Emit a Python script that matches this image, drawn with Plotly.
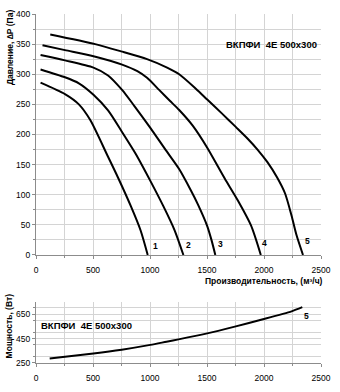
import plotly.graph_objects as go

# Fan curves: pressure (Pa) versus airflow (m³/h) at five speed settings
flow_1 = [40, 254, 376, 476, 632, 718, 832, 917, 980]
pres_1 = [286, 267, 250, 224, 163, 129, 81, 41, 0]

flow_2 = [40, 254, 376, 504, 632, 752, 874, 1003, 1117, 1216, 1293]
pres_2 = [308, 295, 285, 266, 240, 205, 168, 123, 81, 41, 0]

flow_3 = [40, 254, 504, 632, 755, 860, 1003, 1131, 1254, 1359, 1420, 1502, 1539, 1573]
pres_3 = [332, 323, 311, 298, 274, 248, 211, 176, 143, 107, 84, 48, 25, 0]

flow_4 = [57, 254, 504, 755, 889, 974, 1080, 1174, 1254, 1373, 1502, 1601, 1658, 1772, 1886, 1972]
pres_4 = [348, 340, 330, 316, 305, 294, 274, 256, 241, 215, 178, 145, 126, 90, 49, 0]

flow_5 = [125, 519, 746, 974, 1150, 1256, 1402, 1502, 1630, 1750, 1857, 1943, 2030, 2114, 2185, 2242, 2285, 2342]
pres_5 = [366, 350, 338, 325, 311, 300, 276, 258, 235, 213, 193, 175, 154, 129, 102, 65, 33, 0]

curve_names = ["1", "2", "3", "4", "5"]
label_flow = [1045, 1339, 1621, 2006, 2385]
label_pres = [15, 16, 18, 20, 24]

# Power consumption (W) versus airflow at the top speed
power_flow = [120, 504, 752, 1003, 1145, 1250, 1493, 1744, 1991, 2242, 2336]
power_w = [287, 328, 359, 398, 424, 443, 490, 547, 607, 672, 706]
power_label = "5"

model_name = "ВКПФИ  4E 500x300"
x_ticks = [0, 500, 1000, 1500, 2000, 2500]

FONT = "Liberation Sans, Arial, sans-serif"
GRID = "#d4d4d4"
AXIS = "#8c8c8c"

W, H = 340, 392
ML, MR, MT, MB = 36, 12, 9, 18
plot_h = H - MT - MB
top_bottom_px = 261     # pixel row of the pressure axis zero line
low_top_px = 310        # pixel row of the top of the power panel
top_domain = [(H - MB - top_bottom_px) / plot_h, 1.0]
low_domain = [0.0, (H - MB - low_top_px) / plot_h]

fig = go.Figure()

flows = [flow_1, flow_2, flow_3, flow_4, flow_5]
pressures = [pres_1, pres_2, pres_3, pres_4, pres_5]
for name, fx, py in zip(curve_names, flows, pressures):
    fig.add_trace(go.Scatter(
        x=fx, y=py, mode="lines", name=name,
        line=dict(color="black", width=2, shape="spline", smoothing=0.7),
        xaxis="x", yaxis="y", showlegend=False, hoverinfo="skip"))

fig.add_trace(go.Scatter(
    x=power_flow, y=power_w, mode="lines", name="power",
    line=dict(color="black", width=2, shape="spline", smoothing=0.7),
    xaxis="x2", yaxis="y2", showlegend=False, hoverinfo="skip"))

tick_font = dict(family=FONT, size=8.5, color="black")

common_x = dict(
    range=[0, 2500], tickvals=x_ticks, ticktext=[str(v) for v in x_ticks],
    showgrid=True, gridcolor=GRID, gridwidth=1,
    minor=dict(dtick=250, showgrid=True, gridcolor=GRID, gridwidth=1,
               ticks="outside", ticklen=2, tickcolor=AXIS),
    showline=True, linecolor=AXIS, linewidth=1, mirror=False,
    ticks="outside", ticklen=3, tickcolor=AXIS, ticklabelstandoff=4,
    zeroline=False, tickfont=tick_font, fixedrange=True)

fig.update_layout(
    width=W, height=H,
    margin=dict(l=ML, r=MR, t=MT, b=MB),
    paper_bgcolor="white", plot_bgcolor="white",
    font=dict(family=FONT, size=8.5, color="black"),
    xaxis=dict(common_x, anchor="y"),
    yaxis=dict(
        domain=top_domain, anchor="x", range=[0, 400], dtick=50,
        showgrid=True, gridcolor=GRID, gridwidth=1,
        minor=dict(dtick=25, showgrid=True, gridcolor=GRID, gridwidth=1,
                   ticks="outside", ticklen=2, tickcolor=AXIS),
        showline=True, linecolor=AXIS, linewidth=1,
        ticks="outside", ticklen=3, tickcolor=AXIS,
        zeroline=False, tickfont=tick_font, fixedrange=True),
    xaxis2=dict(common_x, anchor="y2"),
    yaxis2=dict(
        domain=low_domain, anchor="x2", range=[250, 750],
        tickvals=[250, 450, 650],
        showgrid=True, gridcolor=GRID, gridwidth=1,
        minor=dict(dtick=100, showgrid=True, gridcolor=GRID, gridwidth=1,
                   ticks="outside", ticklen=2, tickcolor=AXIS),
        showline=True, linecolor=AXIS, linewidth=1,
        ticks="outside", ticklen=3, tickcolor=AXIS,
        zeroline=False, tickfont=tick_font, fixedrange=True),
)

annotations = []
for name, lx, ly in zip(curve_names, label_flow, label_pres):
    annotations.append(dict(x=lx, y=ly, xref="x", yref="y", text=name,
                            showarrow=False,
                            font=dict(family=FONT, size=8.5, weight="bold")))

annotations.append(dict(x=2370, y=632, xref="x2", yref="y2", text=power_label,
                        showarrow=False,
                        font=dict(family=FONT, size=8.5, weight="bold")))

annotations.append(dict(x=2068, y=349, xref="x", yref="y", text=model_name,
                        showarrow=False, font=dict(family=FONT, size=9.5, weight="bold")))
annotations.append(dict(x=441, y=555, xref="x2", yref="y2", text=model_name,
                        showarrow=False, font=dict(family=FONT, size=9.5, weight="bold")))

# axis titles (positions given in full-page pixels)
annotations.append(dict(
    x=10 / W, y=1 - 44 / H, xref="paper", yref="paper",
    text="Давление, ∆P (Па)", textangle=-90, showarrow=False,
    font=dict(family=FONT, size=8.5, weight="bold"),
    xanchor="center", yanchor="middle"))
annotations.append(dict(
    x=8 / W, y=1 - 335 / H, xref="paper", yref="paper",
    text="Мощность, (Вт)", textangle=-90, showarrow=False,
    font=dict(family=FONT, size=8.5, weight="bold"),
    xanchor="center", yanchor="middle"))
annotations.append(dict(
    x=332 / W, y=1 - 288 / H, xref="paper", yref="paper",
    text="Производительность, (м³/ч)", showarrow=False,
    font=dict(family=FONT, size=8.5, weight="bold"),
    xanchor="right", yanchor="middle"))

# paper coordinates are relative to the plot area; convert from full-page pixels
for a in annotations:
    if a["xref"] == "paper":
        px = a["x"] * W
        py = (1 - a["y"]) * H
        a["x"] = (px - ML) / (W - ML - MR)
        a["y"] = (H - MB - py) / plot_h

fig.update_layout(annotations=annotations)

fig.write_html("out.html")
